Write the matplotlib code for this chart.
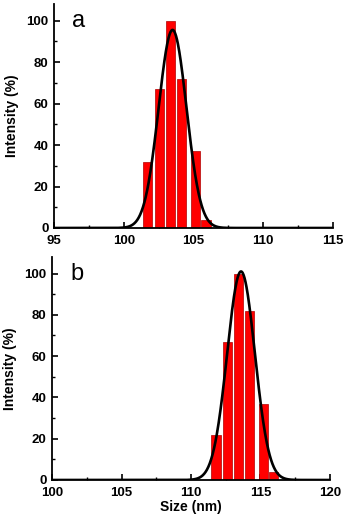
import matplotlib.pyplot as plt
import numpy as np
from matplotlib.ticker import MultipleLocator

plt.rcParams['font.family'] = ['Liberation Sans', 'DejaVu Sans']

# panel a
size_a = [101.7, 102.55, 103.35, 104.15, 105.15, 105.9]
intensity_a = [32, 67, 100, 72, 37, 4]
fit_a = (95.5, 103.5, 1.0)   # amplitude, centre, sigma

# panel b
size_b = [111.8, 112.6, 113.42, 114.22, 115.2, 115.92]
intensity_b = [22, 67, 100, 82, 37, 4]
fit_b = (101.0, 113.6, 1.0)

xlim_a = (95, 115)
xlim_b = (100, 120)
xticks_a = [95, 100, 105, 110, 115]
xticks_b = [100, 105, 110, 115, 120]


def gauss(x, a, c, s):
    return a * np.exp(-(x - c) ** 2 / (2 * s ** 2))


def panel(ax, sizes, vals, fit, xlim, xticks, letter):
    ax.bar(sizes, vals, width=0.66, color='#ff0000', edgecolor='#b00000',
           linewidth=0.5, zorder=2)
    xs = np.linspace(xlim[0], xlim[1], 600)
    ax.plot(xs, gauss(xs, *fit), color='black', lw=1.9, zorder=3)
    ax.set_xlim(*xlim)
    ax.set_ylim(0, 108)
    ax.set_xticks(xticks)
    ax.set_yticks([0, 20, 40, 60, 80, 100])
    ax.xaxis.set_minor_locator(MultipleLocator(2.5))
    ax.yaxis.set_minor_locator(MultipleLocator(10))
    ax.spines['top'].set_visible(False)
    ax.spines['right'].set_visible(False)
    for sp in ('left', 'bottom'):
        ax.spines[sp].set_linewidth(1.3)
    ax.tick_params(direction='in', which='major', length=4, width=1.2,
                   labelsize=9.5)
    ax.tick_params(axis='x', which='major', pad=5)
    ax.tick_params(axis='y', which='major', pad=4)
    ax.tick_params(direction='in', which='minor', length=2.5, width=1.0)
    for lab in ax.get_xticklabels() + ax.get_yticklabels():
        lab.set_fontweight('bold')
    ax.set_ylabel('Intensity (%)', fontsize=10, fontweight='bold', labelpad=5)
    ax.text(0.065, 0.975, letter, transform=ax.transAxes, fontsize=17,
            va='top', ha='left')


fig = plt.figure(figsize=(3.47, 5.21), dpi=100)
ax1 = fig.add_axes([0.1556, 0.5624, 0.804, 0.4299])
ax2 = fig.add_axes([0.1499, 0.0787, 0.801, 0.428])

panel(ax1, size_a, intensity_a, fit_a, xlim_a, xticks_a, 'a')
panel(ax2, size_b, intensity_b, fit_b, xlim_b, xticks_b, 'b')
ax2.set_xlabel('Size (nm)', fontsize=10, fontweight='bold', labelpad=1)

fig.savefig('out.png', dpi=100)
